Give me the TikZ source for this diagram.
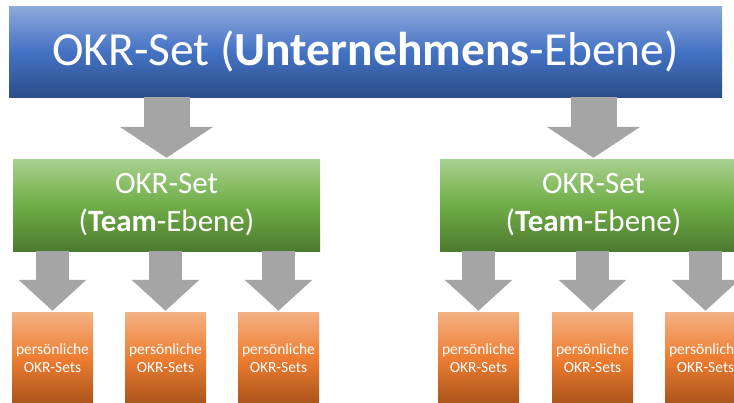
\documentclass[tikz,border=0pt]{standalone}
\usepackage{fontspec}
\setmainfont{Carlito}
\usetikzlibrary{arrows.meta,positioning}
\definecolor{BlueTop}{RGB}{143,170,220}
\definecolor{BlueMid}{RGB}{68,114,196}
\definecolor{BlueBot}{RGB}{44,78,138}
\definecolor{GreenTop}{RGB}{169,209,142}
\definecolor{GreenMid}{RGB}{112,173,71}
\definecolor{GreenBot}{RGB}{76,122,46}
\definecolor{OrangeTop}{RGB}{244,177,131}
\definecolor{OrangeMid}{RGB}{237,125,49}
\definecolor{OrangeBot}{RGB}{170,84,26}
\definecolor{ArrowGray}{RGB}{165,165,165}

\tikzset{
  levelbox/.style={rectangle, inner sep=0pt, text=white, align=center},
  companybox/.style={levelbox, minimum width=713pt, minimum height=91pt,
    top color=BlueTop, bottom color=BlueBot, middle color=BlueMid,
    font=\fontsize{47.5}{52}\selectfont},
  teambox/.style={levelbox, minimum width=307pt, minimum height=92pt,
    top color=GreenTop, bottom color=GreenBot, middle color=GreenMid,
    font=\fontsize{31}{38}\selectfont},
  personbox/.style={levelbox, minimum width=81pt, minimum height=92pt,
    top color=OrangeTop, bottom color=OrangeBot, middle color=OrangeMid,
    font=\fontsize{15.5}{18}\selectfont},
  bigarrow/.style={draw=ArrowGray, line width=46pt,
    -{Triangle[width=92pt,length=31pt]}, shorten >=1pt},
  smallarrow/.style={draw=ArrowGray, line width=33pt,
    -{Triangle[width=66pt,length=31pt]}, shorten >=1pt}
}

\begin{document}
\begin{tikzpicture}[x=1pt,y=-1pt]
  \useasboundingbox (0,0) rectangle (734,402);
  % levels
  \node[companybox] (unternehmen) at (365.5,51.5)
    {OKR-Set (\textbf{Unternehmens}-Ebene)};
  \node[teambox] (teamL) at (166.5,205) {OKR-Set\\(\textbf{Team}-Ebene)};
  \node[teambox] (teamR) at (593.5,205) {OKR-Set\\(\textbf{Team}-Ebene)};
  % personal sets
  \node[personbox] (persL1) at (52.5,358) {persönliche\\OKR-Sets};
  \node[personbox] (persL2) at (165.5,358) {persönliche\\OKR-Sets};
  \node[personbox] (persL3) at (278.5,358) {persönliche\\OKR-Sets};
  \node[personbox] (persR1) at (478.5,358) {persönliche\\OKR-Sets};
  \node[personbox] (persR2) at (592.5,358) {persönliche\\OKR-Sets};
  \node[personbox] (persR3) at (705.5,358) {persönliche\\OKR-Sets};
  % arrows company -> team
  \draw[bigarrow] (unternehmen.south -| teamL.north) -- (teamL.north);
  \draw[bigarrow] (unternehmen.south -| teamR.north) -- (teamR.north);
  % arrows team -> person
  \draw[smallarrow] (teamL.south -| persL1.north) -- (persL1.north);
  \draw[smallarrow] (teamL.south -| persL2.north) -- (persL2.north);
  \draw[smallarrow] (teamL.south -| persL3.north) -- (persL3.north);
  \draw[smallarrow] (teamR.south -| persR1.north) -- (persR1.north);
  \draw[smallarrow] (teamR.south -| persR2.north) -- (persR2.north);
  \draw[smallarrow] (teamR.south -| persR3.north) -- (persR3.north);
\end{tikzpicture}
\end{document}
